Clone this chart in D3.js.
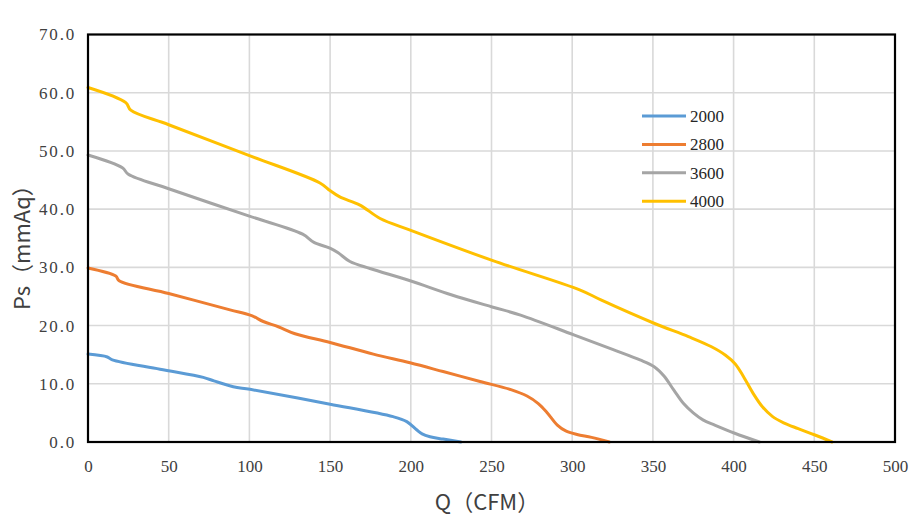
<!DOCTYPE html>
<html>
<head>
<meta charset="utf-8">
<script src="https://cdn.jsdelivr.net/npm/d3@7"></script>
<style>
  html, body { margin: 0; padding: 0; background: #fff; }
  svg { display: block; }
</style>
</head>
<body>
<svg id="chart" width="920" height="528"></svg>
<script>
// ---- data ----
const seriesNames = ["2000", "2800", "3600", "4000"];
const seriesColors = ["#5B9BD5", "#ED7D31", "#A5A5A5", "#FFC000"];

const q2000 = [0, 12, 15.1, 44.6, 71.4, 78, 90, 100.4, 150, 189, 197.5, 203.6, 207, 211.9, 220, 231];
const p2000 = [15.1, 14.6, 14.1, 12.5, 11.1, 10.5, 9.5, 9.05, 6.5, 4.35, 3.5, 2.1, 1.4, 0.9, 0.5, 0];

const q2800 = [0, 17.2, 19.3, 50, 88, 101.4, 108.6, 117.9, 128.3, 150, 176.8, 199.5, 220, 242.9, 262, 272, 279, 284.6, 290.8, 296, 303, 312, 323];
const p2800 = [29.9, 28.5, 27.7, 25.5, 22.7, 21.7, 20.7, 19.8, 18.6, 17.1, 15.1, 13.6, 12.1, 10.4, 9.0, 7.9, 6.6, 5.0, 2.9, 1.9, 1.3, 0.8, 0];

const q3600 = [0, 21.3, 25, 50, 100, 133, 140, 149.9, 155, 162.3, 174.7, 199.6, 225, 250.4, 268, 301, 325, 342, 351, 357, 363, 369, 375, 381, 388.3, 400.7, 416];
const p3600 = [49.3, 47.1, 46.0, 43.5, 38.8, 35.7, 34.3, 33.3, 32.5, 31.0, 29.8, 27.7, 25.3, 23.2, 21.8, 18.4, 15.9, 14.1, 12.9, 11.3, 8.9, 6.6, 5.0, 3.8, 2.9, 1.5, 0];

const q4000 = [0, 23.4, 26.5, 50, 100, 143.7, 149.9, 156, 168.5, 181, 199.6, 250.4, 305, 317.8, 350.7, 372, 386, 395, 401, 406, 412, 418, 424, 431, 440, 450.4, 461];
const p4000 = [60.9, 58.3, 57.0, 54.5, 49.2, 44.5, 43.2, 42.1, 40.7, 38.4, 36.4, 31.2, 26.1, 24.4, 20.4, 18.1, 16.4, 14.9, 13.4, 11.3, 8.4, 6.0, 4.4, 3.3, 2.3, 1.2, 0];

const xTicks = [0, 50, 100, 150, 200, 250, 300, 350, 400, 450, 500];
const yTicks = [0, 10, 20, 30, 40, 50, 60, 70];
const xTitle = "Q（CFM）";
const yTitle = "Ps（mmAq）";

const seriesQ = [q2000, q2800, q3600, q4000];
const seriesP = [p2000, p2800, p3600, p4000];

// ---- layout ----
const svg = d3.select("#chart");
const L = 88, R = 895, T = 34.5, B = 442;

const x = d3.scaleLinear().domain([0, 500]).range([L, R]);
const y = d3.scaleLinear().domain([0, 70]).range([B, T]);

// gridlines
svg.append("g")
  .selectAll("line")
  .data(xTicks)
  .join("line")
  .attr("x1", d => x(d)).attr("x2", d => x(d))
  .attr("y1", T).attr("y2", B)
  .attr("stroke", "#d9d9d9").attr("stroke-width", 1.6);

svg.append("g")
  .selectAll("line")
  .data(yTicks)
  .join("line")
  .attr("x1", L).attr("x2", R)
  .attr("y1", d => y(d)).attr("y2", d => y(d))
  .attr("stroke", "#d9d9d9").attr("stroke-width", 1.6);

// axes via d3 axis (labels only)
const xAxis = d3.axisBottom(x).tickValues(xTicks).tickSize(0).tickPadding(18).tickFormat(d3.format("d"));
const gx = svg.append("g").attr("transform", `translate(0,${B})`).call(xAxis);
gx.select(".domain").remove();
gx.selectAll("text")
  .attr("font-family", "'Liberation Serif', 'DejaVu Serif', serif")
  .attr("font-size", 17).attr("fill", "#404040");

const yAxis = d3.axisLeft(y).tickValues(yTicks).tickSize(0).tickPadding(12).tickFormat(d3.format(".1f"));
const gy = svg.append("g").attr("transform", `translate(${L},0)`).call(yAxis);
gy.select(".domain").remove();
gy.selectAll("text")
  .attr("font-family", "'Liberation Serif', 'DejaVu Serif', serif")
  .attr("font-size", 17).attr("fill", "#404040")
  .attr("letter-spacing", 1.8);

// lines
const line = d3.line()
  .x(d => x(d[0]))
  .y(d => y(d[1]))
  .curve(d3.curveCatmullRom.alpha(0.5));

seriesNames.forEach((name, i) => {
  const pts = seriesQ[i].map((q, j) => [q, seriesP[i][j]]);
  svg.append("path")
    .datum(pts)
    .attr("d", line)
    .attr("fill", "none")
    .attr("stroke", seriesColors[i])
    .attr("stroke-width", 3)
    .attr("stroke-linejoin", "round")
    .attr("stroke-linecap", "round");
});

// frame
svg.append("rect")
  .attr("x", L).attr("y", T)
  .attr("width", R - L).attr("height", B - T)
  .attr("fill", "none").attr("stroke", "#000").attr("stroke-width", 2.2);

// legend
const lg = svg.append("g");
seriesNames.forEach((name, i) => {
  const ly = 116 + i * 28.4;
  lg.append("line")
    .attr("x1", 642).attr("x2", 686)
    .attr("y1", ly).attr("y2", ly)
    .attr("stroke", seriesColors[i]).attr("stroke-width", 3);
  lg.append("text")
    .attr("x", 690).attr("y", ly)
    .attr("dy", "0.35em")
    .attr("font-family", "'Liberation Serif', 'DejaVu Serif', serif")
    .attr("font-size", 17)
    .attr("fill", "#262626")
    .text(name);
});

// axis titles
svg.append("text")
  .attr("x", 487).attr("y", 510)
  .attr("text-anchor", "middle")
  .attr("font-family", "'Noto Sans CJK SC', 'Noto Sans', sans-serif")
  .attr("font-size", 22)
  .attr("fill", "#404040")
  .text(xTitle);

svg.append("text")
  .attr("transform", "translate(30,242) rotate(-90)")
  .attr("text-anchor", "middle")
  .attr("font-family", "'Noto Sans CJK SC', 'Noto Sans', sans-serif")
  .attr("font-size", 22)
  .attr("fill", "#404040")
  .text(yTitle);
</script>
</body>
</html>
